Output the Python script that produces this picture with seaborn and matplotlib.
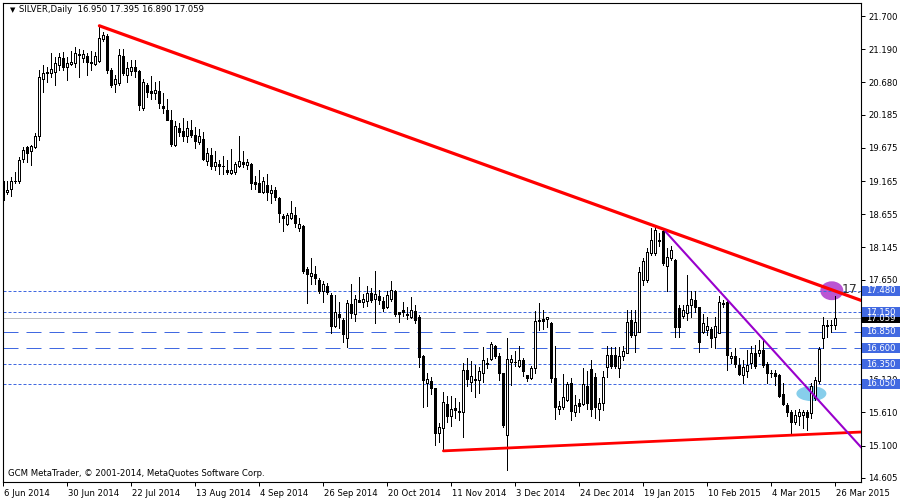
import matplotlib
matplotlib.use("Agg")
import matplotlib.pyplot as plt
import matplotlib.transforms as mtransforms
from matplotlib.patches import Ellipse, Rectangle
import numpy as np
import pandas as pd
import seaborn as sns

# ---------------- data ----------------
symbol_header = "SILVER,Daily  16.950 17.395 16.890 17.059"
footer_text = "GCM MetaTrader, \u00a9 2001-2014, MetaQuotes Software Corp."

opens = [19.17, 18.99, 19.04, 19.16, 19.16, 19.50, 19.69, 19.62, 19.69, 19.85,
         20.73, 20.82, 20.83, 20.84, 20.95, 21.05, 20.91, 20.96, 20.98, 21.12,
         21.06, 21.09, 21.00, 20.96, 21.01, 21.34, 21.39, 20.87, 20.65, 20.67,
         21.09, 20.79, 20.86, 20.91, 20.86, 20.28, 20.64, 20.55, 20.51, 20.55,
         20.32, 20.26, 20.11, 19.72, 19.98, 19.93, 19.86, 19.95, 19.87, 19.76,
         19.81, 19.48, 19.57, 19.39, 19.42, 19.39, 19.33, 19.29, 19.30, 19.39,
         19.46, 19.41, 19.43, 19.15, 19.14, 18.99, 19.11, 18.98, 19.03, 18.91,
         18.63, 18.50, 18.59, 18.64, 18.45, 18.47, 17.81, 17.70, 17.73, 17.65,
         17.47, 17.55, 17.41, 16.94, 17.13, 17.03, 16.76, 17.28, 17.13, 17.34,
         17.30, 17.33, 17.44, 17.35, 17.40, 17.33, 17.23, 17.35, 17.48, 17.15,
         17.18, 17.13, 17.07, 17.17, 17.08, 16.47, 16.07, 16.09, 15.98, 15.30,
         15.37, 15.74, 15.55, 15.68, 15.63, 15.61, 16.26, 16.08, 16.11, 16.11,
         16.21, 16.36, 16.43, 16.63, 16.48, 16.21, 15.27, 16.39, 16.39, 16.32,
         16.42, 16.19, 16.14, 16.29, 17.02, 17.05, 17.04, 16.98, 16.14, 15.67,
         15.69, 15.80, 16.06, 15.61, 15.75, 15.74, 16.01, 16.28, 16.16, 15.66,
         15.75, 16.31, 16.49, 16.49, 16.30, 16.47, 16.53, 17.03, 16.80, 16.85,
         17.65, 17.65, 18.06, 18.06, 18.25, 18.39, 17.86, 17.99, 17.95, 17.21,
         17.09, 17.14, 17.26, 17.34, 17.23, 16.85, 16.88, 16.89, 16.77, 16.83,
         17.28, 17.31, 16.44, 16.47, 16.34, 16.19, 16.25, 16.37, 16.52, 16.52,
         16.57, 16.35, 16.22, 16.21, 16.19, 15.90, 15.72, 15.61, 15.46, 15.55,
         15.57, 15.61, 15.60, 15.83, 16.10, 16.75, 16.94, 16.95, 16.950]
highs = [19.21, 19.17, 19.23, 19.30, 19.54, 19.69, 19.70, 19.72, 19.90, 20.87,
         20.95, 20.92, 21.13, 21.07, 21.13, 21.15, 21.07, 21.17, 21.23, 21.19,
         21.18, 21.13, 21.17, 21.15, 21.54, 21.46, 21.42, 20.90, 20.79, 21.20,
         21.20, 21.00, 21.03, 21.03, 20.87, 20.73, 20.67, 20.78, 20.68, 20.70,
         20.51, 20.42, 20.25, 20.09, 20.05, 20.14, 20.08, 20.11, 20.00, 19.96,
         19.92, 19.67, 19.68, 19.62, 19.49, 19.55, 19.49, 19.65, 19.46, 19.86,
         19.62, 19.50, 19.44, 19.24, 19.33, 19.22, 19.28, 19.10, 19.08, 18.92,
         18.66, 18.68, 18.86, 18.77, 18.59, 18.49, 17.84, 17.98, 17.86, 17.67,
         17.63, 17.60, 17.44, 17.41, 17.31, 17.06, 17.34, 17.59, 17.41, 17.69,
         17.43, 17.55, 17.52, 17.79, 17.49, 17.38, 17.48, 17.63, 17.49, 17.16,
         17.31, 17.23, 17.39, 17.26, 17.10, 16.49, 16.21, 16.16, 15.99, 15.45,
         15.93, 15.86, 15.86, 15.83, 15.77, 16.37, 16.44, 16.40, 16.34, 16.31,
         16.61, 16.44, 16.70, 16.65, 16.52, 16.22, 16.76, 16.49, 16.55, 16.63,
         16.44, 16.19, 16.32, 17.17, 17.29, 17.18, 17.08, 17.00, 16.63, 15.79,
         16.20, 16.08, 16.14, 15.88, 15.81, 16.29, 16.24, 16.42, 16.21, 15.83,
         16.24, 16.63, 16.62, 16.62, 16.62, 16.63, 17.18, 17.18, 17.18, 17.85,
         17.98, 18.13, 18.44, 18.46, 18.36, 18.41, 18.13, 18.16, 17.96, 17.26,
         17.26, 17.72, 17.47, 17.47, 17.23, 17.13, 17.08, 16.93, 17.08, 17.40,
         17.34, 17.35, 16.54, 16.60, 16.44, 16.42, 16.57, 16.63, 16.65, 16.72,
         16.73, 16.39, 16.26, 16.26, 16.20, 16.06, 15.75, 15.65, 15.65, 15.67,
         15.65, 15.65, 16.06, 16.16, 16.62, 17.08, 17.03, 17.03, 17.395]
lows = [18.84, 18.97, 18.94, 19.13, 19.13, 19.45, 19.46, 19.41, 19.68, 19.80,
        20.54, 20.69, 20.77, 20.64, 20.87, 20.87, 20.72, 20.95, 20.92, 20.76,
        21.00, 20.79, 20.87, 20.95, 21.00, 21.31, 20.82, 20.61, 20.54, 20.64,
        20.79, 20.69, 20.79, 20.77, 20.26, 20.25, 20.46, 20.42, 20.42, 20.29,
        20.21, 20.10, 19.70, 19.70, 19.85, 19.78, 19.77, 19.84, 19.67, 19.74,
        19.49, 19.41, 19.35, 19.33, 19.28, 19.28, 19.28, 19.28, 19.28, 19.38,
        19.38, 19.35, 19.05, 19.05, 18.99, 18.98, 18.88, 18.83, 18.87, 18.54,
        18.40, 18.49, 18.58, 18.46, 18.40, 17.76, 17.29, 17.59, 17.59, 17.45,
        17.31, 17.43, 16.83, 16.93, 16.90, 16.70, 16.62, 17.06, 17.02, 17.30,
        17.23, 17.25, 17.31, 16.99, 17.28, 17.17, 17.21, 17.33, 17.09, 17.00,
        17.09, 17.04, 17.06, 16.99, 16.31, 15.70, 15.71, 15.90, 15.11, 15.16,
        15.02, 15.47, 15.40, 15.52, 15.49, 15.24, 16.01, 15.94, 15.85, 15.91,
        16.08, 16.29, 16.42, 16.44, 16.11, 15.39, 14.73, 16.03, 16.32, 16.31,
        16.17, 16.10, 16.13, 16.22, 16.88, 16.89, 16.92, 16.08, 15.51, 15.59,
        15.67, 15.79, 15.49, 15.55, 15.62, 15.72, 15.67, 15.55, 15.52, 15.49,
        15.65, 16.16, 16.29, 16.30, 16.16, 16.42, 16.52, 16.77, 16.54, 16.85,
        17.57, 17.62, 18.03, 18.03, 18.16, 17.88, 17.47, 17.95, 16.77, 16.77,
        17.06, 17.03, 17.08, 17.16, 16.54, 16.83, 16.80, 16.62, 16.60, 16.83,
        17.23, 16.26, 16.37, 16.31, 16.19, 16.06, 16.16, 16.29, 16.29, 16.47,
        16.31, 16.06, 16.16, 16.03, 15.85, 15.72, 15.55, 15.26, 15.44, 15.42,
        15.37, 15.34, 15.52, 15.80, 16.06, 16.60, 16.77, 16.85, 16.890]
closes = [18.87, 19.03, 19.17, 19.17, 19.49, 19.64, 19.60, 19.70, 19.86, 20.76,
          20.82, 20.84, 20.89, 20.98, 21.07, 20.92, 20.98, 20.99, 21.13, 21.10,
          21.11, 21.00, 20.98, 21.09, 21.36, 21.41, 20.87, 20.64, 20.73, 21.10,
          20.83, 20.90, 20.91, 20.86, 20.33, 20.69, 20.54, 20.52, 20.57, 20.36,
          20.29, 20.11, 19.73, 20.01, 19.92, 19.86, 19.98, 19.87, 19.78, 19.86,
          19.51, 19.59, 19.39, 19.45, 19.40, 19.40, 19.30, 19.33, 19.43, 19.47,
          19.42, 19.46, 19.14, 19.12, 19.00, 19.17, 18.99, 19.03, 18.92, 18.67,
          18.59, 18.64, 18.68, 18.52, 18.51, 17.79, 17.73, 17.76, 17.67, 17.48,
          17.59, 17.46, 16.94, 17.15, 17.08, 16.82, 17.29, 17.14, 17.35, 17.31,
          17.36, 17.45, 17.34, 17.43, 17.34, 17.22, 17.41, 17.49, 17.13, 17.13,
          17.16, 17.11, 17.18, 17.03, 16.46, 16.11, 16.12, 15.99, 15.30, 15.38,
          15.77, 15.56, 15.67, 15.65, 15.61, 16.26, 16.12, 16.17, 16.12, 16.25,
          16.41, 16.37, 16.66, 16.47, 16.21, 15.42, 16.43, 16.43, 16.38, 16.42,
          16.24, 16.14, 16.30, 17.01, 17.03, 17.02, 17.07, 16.14, 15.69, 15.71,
          15.85, 16.05, 15.64, 15.72, 15.71, 16.04, 15.76, 15.67, 15.70, 15.76,
          16.16, 16.49, 16.33, 16.33, 16.48, 16.55, 17.00, 16.80, 17.00, 17.77,
          17.93, 18.08, 18.26, 18.42, 18.26, 17.90, 18.00, 18.11, 16.93, 16.93,
          17.18, 17.26, 17.36, 17.23, 16.70, 16.98, 16.94, 16.76, 16.94, 17.31,
          17.29, 16.49, 16.48, 16.35, 16.20, 16.31, 16.34, 16.53, 16.33, 16.57,
          16.34, 16.22, 16.21, 16.17, 15.87, 15.74, 15.62, 15.47, 15.57, 15.62,
          15.62, 15.54, 16.01, 16.11, 16.58, 16.95, 16.95, 16.96, 17.059]

date_labels = ["6 Jun 2014", "30 Jun 2014", "22 Jul 2014", "13 Aug 2014", "4 Sep 2014",
               "26 Sep 2014", "20 Oct 2014", "11 Nov 2014", "3 Dec 2014", "24 Dec 2014",
               "19 Jan 2015", "10 Feb 2015", "4 Mar 2015", "26 Mar 2015"]
date_label_bars = [0, 16, 32, 48, 64, 80, 96, 112, 128, 144, 160, 176, 192, 208]

price_ticks = [21.700, 21.190, 20.680, 20.185, 19.675, 19.165, 18.655, 18.145,
               17.650, 16.120, 15.610, 15.100, 14.605]

level_prices = [17.480, 17.150, 16.850, 16.600, 16.350, 16.050]
level_kinds = ["dot", "dot", "dash", "dash", "dot", "dot"]
bid_price = 17.059

trend_top_x, trend_top_y = [24, 214.5], [21.55, 17.33]
trend_bottom_x, trend_bottom_y = [110, 214.5], [15.02, 15.31]
trend_purple_x, trend_purple_y = [165.5, 214.5], [18.39, 15.07]

# ---------------- figure ----------------
sns.set_style("white")
plt.rcParams['font.family'] = ['DejaVu Sans']
plt.rcParams['lines.scale_dashes'] = False

W, H = 900, 500
FS = 6.1
fig = plt.figure(figsize=(9, 5), dpi=100)
fig.patch.set_facecolor("white")
ax = fig.add_axes([3 / W, 18 / H, 858 / W, 479 / H])
ax.set_facecolor("white")

df = pd.DataFrame({"o": opens, "h": highs, "l": lows, "c": closes})
df["x"] = np.arange(len(df))
up = df["c"] >= df["o"]

PX = 0.72  # one pixel in points

# ellipses (background objects)
ax.add_patch(Ellipse((207.1, 17.48), width=5.75, height=0.29, facecolor="#BA55D3",
                     edgecolor="none", zorder=1))
ax.add_patch(Ellipse((202.0, 15.90), width=7.5, height=0.23, facecolor="#87CEEB",
                     edgecolor="none", zorder=1))

# horizontal levels
for p, k in zip(level_prices, level_kinds):
    ls = (0, (2.16, 1.44)) if k == "dot" else (0, (10.8, 5.76))
    ax.axhline(p, color="#4169E1", lw=PX, linestyle=ls, zorder=1.5)
ax.axhline(bid_price, color="#C0C0C0", lw=PX, zorder=1.5)

# candles
ax.vlines(df["x"], df["l"], df["h"], color="black", lw=PX, zorder=2, antialiased=False)
ax.bar(df.loc[up, "x"], df.loc[up, "c"] - df.loc[up, "o"], bottom=df.loc[up, "o"],
       width=0.5, color="white", edgecolor="black", linewidth=PX, zorder=3, antialiased=False)
ax.bar(df.loc[~up, "x"], df.loc[~up, "c"] - df.loc[~up, "o"], bottom=df.loc[~up, "o"],
       width=0.5, color="black", edgecolor="black", linewidth=PX, zorder=3, antialiased=False)

# trend lines
sns.lineplot(x=trend_top_x, y=trend_top_y, ax=ax, color="#FF0000", linewidth=2.3, zorder=4)
sns.lineplot(x=trend_bottom_x, y=trend_bottom_y, ax=ax, color="#FF0000", linewidth=2.0, zorder=4)
sns.lineplot(x=trend_purple_x, y=trend_purple_y, ax=ax, color="#9900CC", linewidth=1.5, zorder=4)

ax.text(209.5, 17.50, "17.4", fontsize=9, color="#333333", va="center", ha="left",
        clip_on=True, zorder=5)

# axes limits / frame
ax.set_xlim(-0.1, 214.4)
ax.set_ylim(14.542, 21.90)
for s in ax.spines.values():
    s.set_color("black")
    s.set_linewidth(0.8)

# y axis on the right
ax.yaxis.tick_right()
ax.set_yticks(price_ticks)
ax.set_yticklabels([f"{t:.3f}" for t in price_ticks])
ax.tick_params(axis="y", direction="out", length=3, width=PX, pad=2, labelsize=FS,
               colors="black", right=True, left=False)

# x axis labels, left-aligned just right of the tick
ax.set_xticks(date_label_bars)
ax.set_xticklabels(date_labels)
ax.tick_params(axis="x", direction="out", length=3, width=PX, pad=2, labelsize=FS,
               colors="black", bottom=True)
offset = mtransforms.ScaledTranslation(1 / 100, 0, fig.dpi_scale_trans)
for lbl in ax.get_xticklabels():
    lbl.set_horizontalalignment("left")
    lbl.set_transform(lbl.get_transform() + offset)

ax.set_xlabel("")
ax.set_ylabel("")

# price boxes at right
bt = mtransforms.blended_transform_factory(ax.transAxes, ax.transData)
box_h = 0.155
x0 = 1 + 1 / 858
bw = 40 / 858


def price_box(p, fc, label):
    ax.add_patch(Rectangle((x0, p - box_h / 2), bw, box_h, transform=bt, facecolor=fc,
                           edgecolor="none", clip_on=False, zorder=6))
    ax.text(1 + 5 / 858, p, label, transform=bt, color="white", fontsize=FS,
            va="center", ha="left", clip_on=False, zorder=7)


price_box(bid_price, "black", f"{bid_price:.3f}")
for p in level_prices:
    price_box(p, "#4169E1", f"{p:.3f}")

# header and footer
fig.text(10 / W, 1 - 10 / H, "\u25bc", fontsize=5, va="center", ha="left", color="black")
fig.text(19 / W, 1 - 10 / H, symbol_header, fontsize=FS, va="center", ha="left", color="black")
fig.text(8 / W, 1 - 474 / H, footer_text, fontsize=FS, va="center", ha="left", color="black")

fig.savefig("out.png", dpi=100, facecolor="white")
